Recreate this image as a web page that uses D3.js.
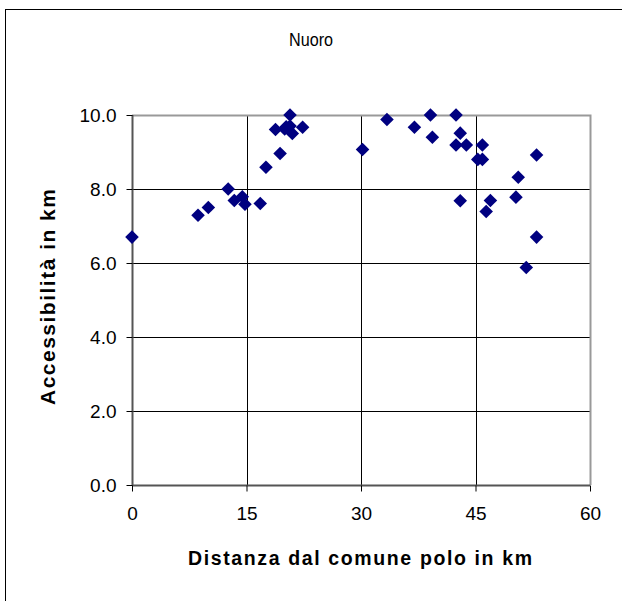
<!DOCTYPE html>
<html>
<head>
<meta charset="utf-8">
<script src="https://cdn.jsdelivr.net/npm/d3@7"></script>
<style>
html,body{margin:0;padding:0;background:#fff;}
svg{display:block;}
text{font-family:"Liberation Sans",Arial,sans-serif;fill:#000;}
</style>
</head>
<body>
<svg id="chart" width="622" height="601"></svg>
<script>
const title = "Nuoro";
const xLabel = "Distanza dal comune polo in km";
const yLabel = "Accessibilità in km";
const xTicks = [0, 15, 30, 45, 60];
const yTicks = [0, 2, 4, 6, 8, 10];

const distanza = [0, 8.65, 10.0, 12.6, 13.4, 14.45, 14.8, 16.8, 17.55, 19.4, 18.8, 20.7, 20.2, 20.7, 21.0, 22.35, 20.0,
  30.2, 33.4, 37.0, 39.1, 39.35, 42.45, 43.0, 42.45, 43.8, 45.9, 45.3, 45.9, 53.0, 50.6, 43.0, 46.95, 46.4, 50.3, 53.0, 51.65];
const accessibilita = [6.70, 7.29, 7.50, 8.00, 7.69, 7.79, 7.59, 7.61, 8.59, 8.96, 9.61, 10.0, 9.68, 9.70, 9.50, 9.67, 9.62,
  9.07, 9.88, 9.67, 10.0, 9.40, 10.0, 9.51, 9.19, 9.19, 9.19, 8.80, 8.80, 8.92, 8.32, 7.68, 7.69, 7.39, 7.78, 6.70, 5.88];

const svg = d3.select("#chart");

// outer frame
svg.append("rect").attr("x", 5.5).attr("y", 9.5).attr("width", 640).attr("height", 620)
  .attr("fill", "#fff").attr("stroke", "#000").attr("stroke-width", 1);

const L = 132, R = 590, T = 115, B = 485;
const x = d3.scaleLinear().domain([0, 60]).range([L, R]);
const y = d3.scaleLinear().domain([0, 10]).range([B, T]);

// gridlines
const g = svg.append("g");
g.selectAll(".hg").data(yTicks.filter(v => v > 0 && v < 10)).enter().append("line")
  .attr("x1", L).attr("x2", R).attr("y1", d => Math.round(y(d)) + 0.5).attr("y2", d => Math.round(y(d)) + 0.5)
  .attr("stroke", "#000").attr("stroke-width", 1);
g.selectAll(".vg").data(xTicks.filter(v => v > 0 && v < 60)).enter().append("line")
  .attr("y1", T).attr("y2", B).attr("x1", d => Math.round(x(d)) + 0.5).attr("x2", d => Math.round(x(d)) + 0.5)
  .attr("stroke", "#000").attr("stroke-width", 1);

// plot area border (gray top/right)
svg.append("path").attr("d", `M${L},${T + 0.5}H${R + 0.5}V${B}`)
  .attr("fill", "none").attr("stroke", "#999").attr("stroke-width", 2);

// axes
const xAxis = d3.axisBottom(x).tickValues(xTicks).tickSize(6).tickPadding(15).tickFormat(d3.format("d"));
const yAxis = d3.axisLeft(y).tickValues(yTicks).tickSize(6).tickPadding(10).tickFormat(d3.format(".1f"));

const gx = svg.append("g").attr("transform", `translate(0,${B + 0.5})`).call(xAxis);
const gy = svg.append("g").attr("transform", `translate(${L + 0.5},0)`).call(yAxis);
[gx, gy].forEach(a => {
  a.select(".domain").attr("stroke", "#555").attr("stroke-width", 2);
  a.selectAll(".tick line").attr("stroke", "#000");
  a.selectAll("text").attr("font-size", 19).attr("fill", "#000")
    .style("font-family", '"Liberation Sans",Arial,sans-serif');
});
gx.select(".domain").attr("d", `M${L},0H${R}`);
gy.select(".domain").attr("d", `M0,${B}V${T}`);

// points
const pts = distanza.map((d, i) => ({ x: d, y: accessibilita[i] }));
const sym = d3.symbol().type(d3.symbolSquare).size(92);
svg.append("g").selectAll("path").data(pts).enter().append("path")
  .attr("d", sym)
  .attr("transform", d => `translate(${x(d.x)},${y(d.y)}) rotate(45)`)
  .attr("fill", "#000080");

// title
svg.append("text").attr("x", 311).attr("y", 46).attr("text-anchor", "middle")
  .attr("font-size", 18).attr("textLength", 44).attr("lengthAdjust", "spacingAndGlyphs").text(title);

// axis titles
svg.append("text").attr("x", 360).attr("y", 565).attr("text-anchor", "middle")
  .attr("font-size", 19.5).attr("font-weight", "bold")
  .attr("textLength", 344).attr("lengthAdjust", "spacing").text(xLabel);
svg.append("text").attr("transform", "translate(55,297) rotate(-90)").attr("text-anchor", "middle")
  .attr("font-size", 21).attr("font-weight", "bold")
  .attr("textLength", 216).attr("lengthAdjust", "spacing").text(yLabel);
</script>
</body>
</html>
